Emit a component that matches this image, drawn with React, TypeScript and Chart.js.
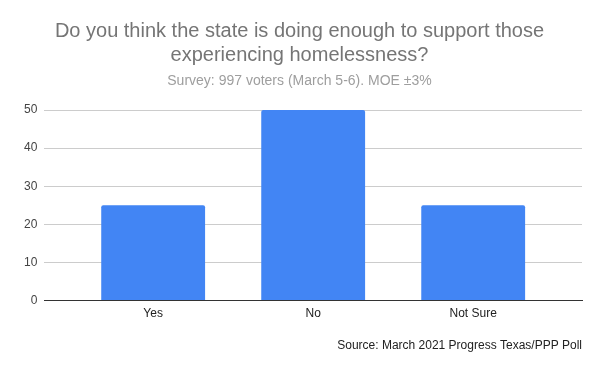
import React, { useEffect, useRef } from "react";
import { Chart, registerables } from "chart.js";

Chart.register(...registerables);

const categories = ["Yes", "No", "Not Sure"];
const values = [25, 50, 25];
const titleLines = ["Do you think the state is doing enough to support those", "experiencing homelessness?"];
const subtitleText = "Survey: 997 voters (March 5-6). MOE \u00b13%";
const sourceText = "Source: March 2021 Progress Texas/PPP Poll";

const FONT = "Arial, 'Liberation Sans', sans-serif";

export default function App() {
  const ref = useRef<HTMLCanvasElement | null>(null);
  useEffect(() => {
    document.body.style.margin = "0";
    const canvas = ref.current;
    if (!canvas) return;
    const sourcePlugin = {
      id: "sourceText",
      afterDraw(chart: any) {
        const ctx = chart.ctx;
        ctx.save();
        ctx.font = `12px ${FONT}`;
        ctx.fillStyle = "#222222";
        ctx.textAlign = "right";
        ctx.textBaseline = "middle";
        ctx.fillText(sourceText, chart.chartArea.right, 346);
        ctx.restore();
      },
    };
    const chart = new Chart(canvas, {
      type: "bar",
      data: {
        labels: categories,
        datasets: [
          {
            data: values.map((v, i) => ({ x: i, y: v })),
            backgroundColor: "#4285F4",
            categoryPercentage: 1,
            barPercentage: 0.649,
            borderRadius: { topLeft: 2, topRight: 2, bottomLeft: 0, bottomRight: 0 },
            borderSkipped: "bottom",
          },
        ],
      },
      options: {
        animation: false,
        responsive: false,
        maintainAspectRatio: false,
        layout: { padding: { left: 17, right: 18, bottom: 44, top: 0 } },
        plugins: {
          legend: { display: false },
          tooltip: { enabled: false },
          title: {
            display: true,
            text: titleLines,
            color: "#757575",
            font: { family: FONT, size: 20, weight: "normal", lineHeight: 1.2 },
            padding: { top: 19.5, bottom: 5.7 },
          },
          subtitle: {
            display: true,
            text: subtitleText,
            color: "#9e9e9e",
            font: { family: FONT, size: 14, weight: "normal", lineHeight: 1.2 },
            padding: { top: 0, bottom: 20 },
          },
        },
        scales: {
          x: {
            type: "linear",
            min: -0.68,
            max: 2.68,
            offset: false,
            afterBuildTicks: (scale: any) => {
              scale.ticks = categories.map((_, i) => ({ value: i }));
            },
            grid: { display: false, drawTicks: false, tickLength: 0 },
            border: { display: true, color: "#333333", width: 1 },
            ticks: {
              color: "#222222",
              font: { family: FONT, size: 12 },
              padding: 6,
              autoSkip: false,
              maxRotation: 0,
              callback: (v: any) => categories[Math.round(Number(v))] ?? "",
            },
          },
          y: {
            min: 0,
            max: 50,
            ticks: { stepSize: 10, color: "#444444", font: { family: FONT, size: 12 }, padding: 7 },
            grid: {
              drawTicks: false,
              tickLength: 0,
              color: (c: any) => (c.tick && c.tick.value === 0 ? "#333333" : "#cccccc"),
            },
            border: { display: false },
          },
        },
      },
      plugins: [sourcePlugin],
    });
    return () => chart.destroy();
  }, []);
  return <canvas ref={ref} width={600} height={371} style={{ display: "block", width: 600, height: 371 }} />;
}
